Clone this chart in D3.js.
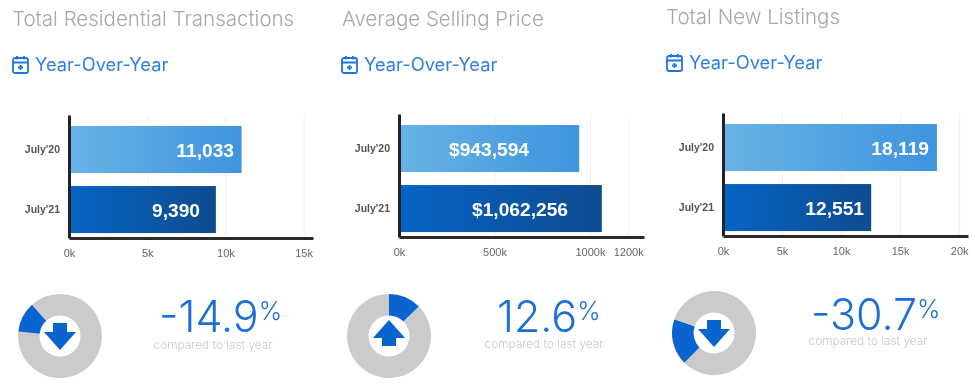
<!DOCTYPE html>
<html>
<head>
<meta charset="utf-8">
<script src="https://cdn.jsdelivr.net/npm/d3@7"></script>
<style>
    body { margin: 0; background: #fff; }
    svg { display: block; filter: blur(0.7px); }
    .title { font-family: Inter, sans-serif; font-weight: 300; font-size: 20.5px; fill: #a8a8a8; }
    .period { font-family: Inter, sans-serif; font-weight: 400; font-size: 18.3px; fill: #2f80e0; }
    .pct { font-family: Inter, sans-serif; font-weight: 300; font-size: 43px; fill: #1a6fd8; }
    .caption { font-family: Inter, sans-serif; font-weight: 300; font-size: 11.8px; fill: #c8c8c8; }
    .value { font-family: "Liberation Sans", sans-serif; font-weight: 700; font-size: 19.2px; fill: #fff; }
    .axis text { font-family: "Liberation Sans", sans-serif; fill: #666; font-size: 11px; }
    .axis.y text { font-weight: 700; font-size: 10.5px; fill: #555; }
</style>
</head>
<body>
<div id="app"></div>
<script>
// data
const categories = ["July'20", "July'21"];
const titles = ["Total Residential Transactions", "Average Selling Price", "Total New Listings"];
const periodLabel = "Year-Over-Year";
const captionLabel = "compared to last year";

const transactions = [11033, 9390];
const sellingPrice = [943594, 1062256];
const newListings = [18119, 12551];
const valueLabels = [["11,033", "9,390"], ["$943,594", "$1,062,256"], ["18,119", "12,551"]];

const transactionTicks = [0, 5000, 10000, 15000];
const priceTicks = [0, 500000, 1000000, 1200000];
const listingTicks = [0, 5000, 10000, 15000, 20000];

const changeLabels = ["-14.9", "12.6", "-30.7"];

// ring shares as drawn: grey, blue, grey
const ringTransactions = [76.7, 11.7, 11.6];
const ringPrice = [0, 12.6, 87.4];
const ringListings = [62.5, 17.8, 19.7];

// where each panel sits on the page
const panels = [
    { values: transactions, ticks: transactionTicks, ring: ringTransactions, xMax: 15600, xRange: [69, 313], yRange: [115, 238],
      titleX: 12, titleY: 26, iconX: 12, periodX: 35, periodY: 71, labelEnd: [234, 200],
      ringX: 60, ringY: 336, pctX: 159, pctY: 332, captionX: 213, captionY: 349, up: false },
    { values: sellingPrice, ticks: priceTicks, ring: ringPrice, xMax: 1283000, xRange: [399, 644], yRange: [114, 237],
      titleX: 342, titleY: 26, iconX: 341, periodX: 364, periodY: 71, labelEnd: [529, 568],
      ringX: 389, ringY: 336, pctX: 497, pctY: 332, captionX: 544, captionY: 348, up: true },
    { values: newListings, ticks: listingTicks, ring: ringListings, xMax: 20750, xRange: [723, 968], yRange: [113, 236],
      titleX: 666, titleY: 24, iconX: 666, periodX: 689, periodY: 69, labelEnd: [929, 864],
      ringX: 714, ringY: 333, pctX: 811, pctY: 330, captionX: 868, captionY: 345, up: false }
];

const svg = d3.select("#app")
    .append("svg")
        .attr("width", 975)
        .attr("height", 386);

const defs = svg.append("defs");
function addGradient(id, from, to) {
    const g = defs.append("linearGradient").attr("id", id);
    g.append("stop").attr("offset", "0%").attr("stop-color", from);
    g.append("stop").attr("offset", "100%").attr("stop-color", to);
}
addGradient("barLight", "#68b3e6", "#3f94de");
addGradient("barDark", "#0563c4", "#0f4c90");

const pie = d3.pie().sort(null);
const arc = d3.arc().innerRadius(20.5).outerRadius(42);

panels.forEach((p, i) => {
    // header
    svg.append("text")
        .attr("class", "title")
        .attr("x", p.titleX)
        .attr("y", p.titleY)
        .text(titles[i]);

    const icon = svg.append("g")
        .attr("transform", `translate(${p.iconX},${p.periodY - 15})`)
        .attr("fill", "none")
        .attr("stroke", "#1f74dc")
        .attr("stroke-width", 1.8);
    icon.append("rect").attr("x", 1).attr("y", 2).attr("width", 15).attr("height", 15).attr("rx", 2);
    icon.append("path").attr("d", "M1 6.5H16M5 0V3.5M12 0V3.5M8.5 9V14M6 11.5H11");

    svg.append("text")
        .attr("class", "period")
        .attr("x", p.periodX)
        .attr("y", p.periodY)
        .text(periodLabel);

    // bar chart
    const x = d3.scaleLinear()
        .domain([0, p.xMax])
        .range(p.xRange);

    const y = d3.scaleBand()
        .domain(categories)
        .range(p.yRange)
        .paddingInner(0.217)
        .paddingOuter(0.133)
        .align(0.69);

    const gridHeight = p.yRange[1] - p.yRange[0];

    // gridlines go under the bars
    const grid = svg.append("g")
        .attr("transform", `translate(0,${p.yRange[1]})`)
        .call(d3.axisBottom(x)
            .tickValues(p.ticks)
            .tickSizeInner(-gridHeight)
            .tickSizeOuter(0)
            .tickFormat(""));
    grid.select(".domain").remove();
    grid.selectAll(".tick line").attr("stroke", "#f0f0f0");

    svg.selectAll(".bar" + i)
        .data(p.values)
        .join("rect")
            .attr("x", x(0) + 1)
            .attr("y", (d, j) => y(categories[j]))
            .attr("width", d => x(d) - x(0) - 1)
            .attr("height", y.bandwidth())
            .attr("fill", (d, j) => j === 0 ? "url(#barLight)" : "url(#barDark)");

    svg.selectAll(".value" + i)
        .data(p.values)
        .join("text")
            .attr("class", "value")
            .attr("text-anchor", "end")
            .attr("x", (d, j) => p.labelEnd[j])
            .attr("y", (d, j) => y(categories[j]) + y.bandwidth() / 2 + 7.5)
            .text((d, j) => valueLabels[i][j]);

    const yAxis = svg.append("g")
        .attr("class", "axis y")
        .attr("transform", `translate(${x(0)},0)`)
        .call(d3.axisLeft(y).tickSize(0).tickPadding(9));

    const xAxis = svg.append("g")
        .attr("class", "axis x")
        .attr("transform", `translate(0,${p.yRange[1]})`)
        .call(d3.axisBottom(x)
            .tickValues(p.ticks)
            .tickSize(0)
            .tickPadding(11)
            .tickFormat(d => d / 1000 + "k"));

    xAxis.select(".domain").attr("stroke", "#2b2b2b").attr("stroke-width", 3);
    yAxis.select(".domain").attr("stroke", "#20232b").attr("stroke-width", 3);

    // ring with arrow
    const ring = svg.append("g")
        .attr("transform", `translate(${p.ringX},${p.ringY})`);

    ring.selectAll("path.slice")
        .data(pie(p.ring))
        .join("path")
            .attr("class", "slice")
            .attr("d", arc)
            .attr("fill", (d, j) => j === 1 ? "#0a64d0" : "#cbcbcb");

    ring.append("path")
        .attr("fill", "#0a64d0")
        .attr("d", p.up
            ? "M0-16L16 2H7V10H-7V2H-16Z"
            : "M-7-13H7V-4H16L0 14L-16-4H-7Z");

    // change figure
    const pct = svg.append("text")
        .attr("class", "pct")
        .attr("x", p.pctX)
        .attr("y", p.pctY)
        .text(changeLabels[i]);
    pct.append("tspan")
        .attr("font-size", 25)
        .attr("dy", -12)
        .text("%");

    svg.append("text")
        .attr("class", "caption")
        .attr("text-anchor", "middle")
        .attr("x", p.captionX)
        .attr("y", p.captionY)
        .text(captionLabel);
});
</script>
</body>
</html>
